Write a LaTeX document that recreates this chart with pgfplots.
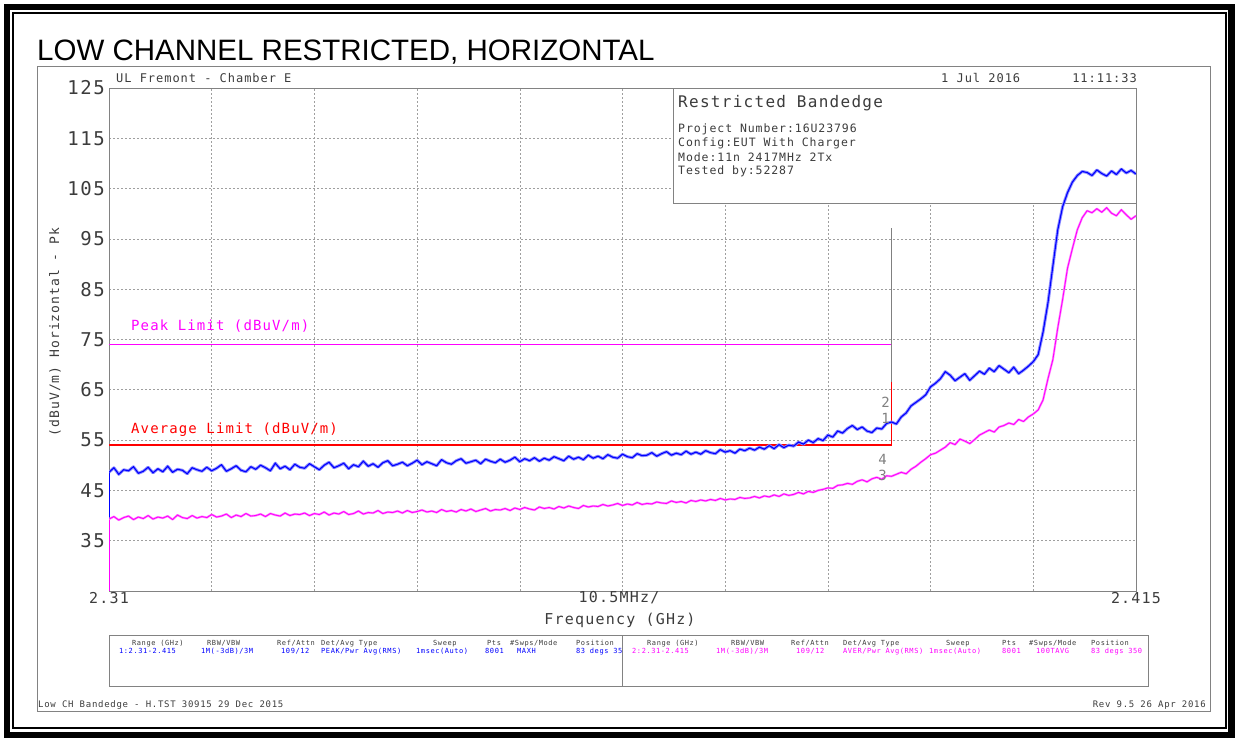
\documentclass[border=0pt]{standalone}
\usepackage{fontspec}
\usepackage{pgfplots}
\usepackage{pgfplotstable}
\pgfplotsset{compat=1.18}
\newfontfamily\arial{Liberation Sans}
\newfontfamily\hp[LetterSpace=8]{DejaVu Sans Mono}
\newcommand\hpf[1]{\hp\fontsize{#1}{#1}\selectfont}
\definecolor{pk}{RGB}{0,0,255}
\definecolor{av}{RGB}{255,0,255}
\definecolor{lim}{RGB}{255,0,0}
\definecolor{txt}{RGB}{60,60,60}
\definecolor{frm}{RGB}{130,130,130}

% f (GHz), peak trace, average trace (dBuV/m)
\pgfplotstableread{
f pk av
2.3100 48.6 39.3
2.3105 49.5 39.8
2.3110 48.2 39.1
2.3115 49.1 39.6
2.3120 48.9 39.9
2.3125 49.7 39.2
2.3130 48.4 39.7
2.3135 48.8 39.4
2.3140 49.6 40.0
2.3145 48.5 39.3
2.3150 49.3 39.7
2.3155 48.7 39.5
2.3160 49.8 39.9
2.3165 48.6 39.2
2.3170 49.2 40.1
2.3175 49.0 39.6
2.3180 48.3 39.4
2.3185 49.5 40.0
2.3190 49.1 39.5
2.3195 48.8 39.8
2.3200 49.6 39.6
2.3205 48.9 40.2
2.3210 49.4 39.7
2.3215 50.1 39.9
2.3220 48.8 40.3
2.3225 49.3 39.6
2.3230 49.9 40.1
2.3235 49.0 39.8
2.3240 48.7 40.4
2.3245 49.7 39.9
2.3250 49.2 40.0
2.3255 50.0 40.3
2.3260 49.5 39.8
2.3265 48.9 40.4
2.3270 50.4 40.1
2.3275 49.3 39.9
2.3280 49.8 40.5
2.3285 49.1 40.0
2.3290 50.2 40.3
2.3295 49.6 40.2
2.3300 49.4 40.5
2.3305 50.3 40.0
2.3310 49.7 40.4
2.3315 49.1 40.2
2.3320 50.0 40.7
2.3325 50.6 40.1
2.3330 49.5 40.5
2.3335 49.9 40.3
2.3340 50.4 40.8
2.3345 49.3 40.2
2.3350 50.1 40.4
2.3355 49.7 40.9
2.3360 50.8 40.3
2.3365 49.8 40.6
2.3370 50.3 40.5
2.3375 49.6 41.0
2.3380 50.5 40.4
2.3385 50.9 40.7
2.3390 49.9 40.6
2.3395 50.2 40.9
2.3400 50.6 40.5
2.3405 49.9 41.0
2.3410 50.4 40.6
2.3415 51.0 40.8
2.3420 50.1 41.1
2.3425 50.7 40.7
2.3430 50.3 40.9
2.3435 49.9 40.6
2.3440 51.1 41.2
2.3445 50.5 40.8
2.3450 50.2 41.0
2.3455 50.9 40.7
2.3460 51.3 41.2
2.3465 50.4 40.9
2.3470 50.7 41.3
2.3475 51.0 40.8
2.3480 50.3 41.1
2.3485 51.2 41.4
2.3490 50.8 40.9
2.3495 50.5 41.2
2.3500 51.2 41.1
2.3505 50.6 41.4
2.3510 51.0 41.0
2.3515 51.6 41.5
2.3520 50.7 41.2
2.3525 51.3 41.6
2.3530 50.9 41.3
2.3535 51.5 41.1
2.3540 50.8 41.7
2.3545 51.4 41.4
2.3550 51.0 41.6
2.3555 51.7 41.3
2.3560 51.3 41.8
2.3565 50.9 41.5
2.3570 51.8 41.9
2.3575 51.2 41.6
2.3580 51.6 41.4
2.3585 51.1 42.0
2.3590 52.0 41.7
2.3595 51.4 41.9
2.3600 51.8 41.8
2.3605 51.3 42.2
2.3610 52.1 41.9
2.3615 51.6 42.1
2.3620 51.4 42.4
2.3625 52.2 42.0
2.3630 51.7 42.3
2.3635 51.5 42.1
2.3640 52.3 42.6
2.3645 51.9 42.2
2.3650 52.0 42.4
2.3655 52.5 42.3
2.3660 51.8 42.7
2.3665 52.3 42.5
2.3670 52.7 42.4
2.3675 52.0 42.9
2.3680 52.4 42.6
2.3685 52.1 42.8
2.3690 52.8 42.5
2.3695 52.2 43.0
2.3700 52.6 42.8
2.3705 52.2 43.1
2.3710 52.9 42.9
2.3715 52.5 43.2
2.3720 52.3 43.0
2.3725 53.1 43.4
2.3730 52.6 43.1
2.3735 52.9 43.3
2.3740 52.4 43.2
2.3745 53.2 43.6
2.3750 52.9 43.4
2.3755 53.4 43.5
2.3760 53.0 43.8
2.3765 53.6 43.5
2.3770 53.2 43.9
2.3775 53.9 43.7
2.3780 53.3 44.1
2.3785 54.1 43.8
2.3790 53.5 44.3
2.3795 54.0 44.0
2.3800 53.8 44.2
2.3805 54.6 44.6
2.3810 54.2 44.3
2.3815 55.0 44.8
2.3820 54.5 44.6
2.3825 55.3 45.0
2.3830 54.9 45.2
2.3835 56.0 45.5
2.3840 55.6 45.4
2.3845 56.8 46.0
2.3850 56.4 46.1
2.3855 57.3 46.4
2.3860 57.9 46.2
2.3865 57.1 46.8
2.3870 57.6 47.1
2.3875 56.8 46.7
2.3880 56.5 47.3
2.3885 57.4 47.6
2.3890 57.2 47.2
2.3895 58.3 47.9
2.3900 58.6 47.8
2.3905 58.2 48.2
2.3910 59.6 48.6
2.3915 60.4 48.3
2.3920 61.8 49.2
2.3925 62.5 49.8
2.3930 63.2 50.6
2.3935 64.0 51.3
2.3940 65.6 52.1
2.3945 66.3 52.4
2.3950 67.2 53.0
2.3955 68.6 53.6
2.3960 67.9 54.5
2.3965 66.8 54.1
2.3970 67.5 55.2
2.3975 68.2 54.8
2.3980 66.9 54.3
2.3985 67.8 55.1
2.3990 68.7 56.0
2.3995 68.1 56.5
2.4000 69.3 57.0
2.4005 68.6 56.6
2.4010 69.8 57.6
2.4015 69.1 57.9
2.4020 68.4 58.4
2.4025 69.5 58.1
2.4030 68.2 59.1
2.4035 68.9 58.7
2.4040 69.7 59.6
2.4045 70.6 60.2
2.4050 72.0 61.0
2.4055 76.5 63.0
2.4060 82.3 67.2
2.4065 89.6 71.0
2.4070 96.8 77.3
2.4075 101.4 83.0
2.4080 104.2 89.2
2.4085 106.3 93.1
2.4090 107.6 96.8
2.4095 108.4 99.2
2.4100 108.2 100.6
2.4105 107.6 100.2
2.4110 108.7 101.0
2.4115 108.0 100.3
2.4120 107.5 101.2
2.4125 108.5 100.1
2.4130 107.8 99.6
2.4135 108.9 100.8
2.4140 108.1 99.8
2.4145 108.6 98.9
2.4150 107.9 99.6
}\trace

\begin{document}
\begin{tikzpicture}[x=1pt,y=1pt]
\useasboundingbox (0,0) rectangle (1235,738);
% frames
\draw[line width=6.5pt] (7,3) rectangle (1231.5,731);
\draw[line width=2pt] (13,10) rectangle (1225.5,725);
\draw[frm, line width=0.9pt] (37,27) rectangle (1210,672);
% title
\node[anchor=base west, inner sep=0pt] at (37,677) {\arial\fontsize{29.5}{29.5}\selectfont LOW CHANNEL RESTRICTED, HORIZONTAL};
% header
\node[anchor=west, inner sep=0pt, text=txt] at (116,660) {\hpf{12}UL Fremont - Chamber E};
\node[anchor=west, inner sep=0pt, text=txt] at (941,660) {\hpf{12}1 Jul 2016};
\node[anchor=east, inner sep=0pt, text=txt] at (1137,660) {\hpf{12}11:11:33};

\begin{axis}[
  at={(109pt,147pt)}, anchor=south west, scale only axis,
  width=1027pt, height=503pt,
  xmin=2.31, xmax=2.415, ymin=25, ymax=125,
  xtick={2.31,2.3205,2.331,2.3415,2.352,2.3625,2.373,2.3835,2.394,2.4045,2.415},
  xticklabels={},
  ytick={25,35,...,125},
  yticklabels={,35,45,55,65,75,85,95,105,115,125},
  major tick length=0pt,
  grid=major,
  major grid style={gray!75, dash pattern=on 2pt off 2pt, line width=0.6pt},
  axis line style={frm, line width=0.9pt},
  yticklabel style={font=\hpf{19}, text=txt, inner sep=0pt, xshift=-4pt},
]
% info box (under the traces)
\fill[white] (axis cs:2.36766,102.1) rectangle (axis cs:2.415,125);
\draw[frm, line width=0.8pt] (axis cs:2.36766,102.1) rectangle (axis cs:2.415,125);
% limit lines
\addplot[av, line width=1pt] coordinates {(2.31,74) (2.39,74)};
\addplot[lim, line width=1.6pt] coordinates {(2.31,54) (2.39,54) (2.39,66.5)};
\addplot[gray, line width=0.6pt] coordinates {(2.39,66.5) (2.39,97.2)};
% traces (light halo + core, as the dense analyser sweep looks)
\addplot[pk, line width=0.5pt] coordinates {(2.31,25) (2.31,48.6)};
\addplot[pk!45, line width=3pt, line join=round] table[x=f, y=pk] {\trace};
\addplot[pk, line width=1.1pt] table[x=f, y=pk] {\trace};
\addplot[av, line width=0.5pt] coordinates {(2.31,25) (2.31,39.3)};
\addplot[av!45, line width=2.2pt, line join=round] table[x=f, y=av] {\trace};
\addplot[av, line width=0.9pt] table[x=f, y=av] {\trace};
% limit labels
\node[anchor=west, inner sep=0pt, text=av] at (axis cs:2.31225,77.7) {\hpf{14}Peak Limit (dBuV/m)};
\node[anchor=west, inner sep=0pt, text=lim] at (axis cs:2.31225,57.0) {\hpf{14}Average Limit (dBuV/m)};
% marker labels
\node[inner sep=0pt, text=gray] at (axis cs:2.3894,62.6) {\hpf{14}2};
\node[inner sep=0pt, text=gray] at (axis cs:2.3894,59.4) {\hpf{14}1};
\node[inner sep=0pt, text=gray] at (axis cs:2.3891,51.2) {\hpf{14}4};
\node[inner sep=0pt, text=gray] at (axis cs:2.3891,48.0) {\hpf{14}3};
\end{axis}

% info box text
\node[anchor=west, inner sep=0pt, text=txt] at (678,635) {\hpf{16}Restricted Bandedge};
\node[anchor=west, inner sep=0pt, text=txt] at (678,609) {\hpf{11.5}Project Number:16U23796};
\node[anchor=west, inner sep=0pt, text=txt] at (678,595) {\hpf{11.5}Config:EUT With Charger};
\node[anchor=west, inner sep=0pt, text=txt] at (678,581) {\hpf{11.5}Mode:11n 2417MHz 2Tx};
\node[anchor=west, inner sep=0pt, text=txt] at (678,567) {\hpf{11.5}Tested by:52287};

% axis texts
\node[inner sep=0pt, text=txt] at (109,140) {\hpf{15}2.31};
\node[inner sep=0pt, text=txt] at (1136,140) {\hpf{15}2.415};
\node[inner sep=0pt, text=txt] at (619,140) {\hpf{15}10.5MHz/};
\node[inner sep=0pt, text=txt] at (620,118) {\hpf{15}Frequency (GHz)};
\node[inner sep=0pt, text=txt, rotate=90] at (55,406) {\hpf{13}(dBuV/m) Horizontal - Pk};

% settings table
\draw[frm, line width=0.8pt] (109,52) rectangle (1148,103);
\draw[frm, line width=0.8pt] (622,52) -- (622,103);
\begin{scope}[every node/.style={anchor=base west, inner sep=0pt}]
% headers, left half
\node[text=txt] at (132,92.5) {\hpf{7}Range (GHz)};
\node[text=txt] at (207,92.5) {\hpf{7}RBW/VBW};
\node[text=txt] at (277,92.5) {\hpf{7}Ref/Attn};
\node[text=txt] at (321,92.5) {\hpf{7}Det/Avg Type};
\node[text=txt] at (433,92.5) {\hpf{7}Sweep};
\node[text=txt] at (487,92.5) {\hpf{7}Pts};
\node[text=txt] at (510,92.5) {\hpf{7}\#Swps/Mode};
\node[text=txt] at (576,92.5) {\hpf{7}Position};
% headers, right half
\node[text=txt] at (647,92.5) {\hpf{7}Range (GHz)};
\node[text=txt] at (731,92.5) {\hpf{7}RBW/VBW};
\node[text=txt] at (791,92.5) {\hpf{7}Ref/Attn};
\node[text=txt] at (843,92.5) {\hpf{7}Det/Avg Type};
\node[text=txt] at (946,92.5) {\hpf{7}Sweep};
\node[text=txt] at (1002,92.5) {\hpf{7}Pts};
\node[text=txt] at (1029,92.5) {\hpf{7}\#Swps/Mode};
\node[text=txt] at (1091,92.5) {\hpf{7}Position};
% values, trace 1
\node[text=pk] at (119,84) {\hpf{7}1:2.31-2.415};
\node[text=pk] at (201,84) {\hpf{7}1M(-3dB)/3M};
\node[text=pk] at (281,84) {\hpf{7}109/12};
\node[text=pk] at (321,84) {\hpf{7}PEAK/Pwr Avg(RMS)};
\node[text=pk] at (416,84) {\hpf{7}1msec(Auto)};
\node[text=pk] at (485,84) {\hpf{7}8001};
\node[text=pk] at (517,84) {\hpf{7}MAXH};
\node[text=pk] at (576,84) {\hpf{7}83 degs 35};
% values, trace 2
\node[text=av] at (632,84) {\hpf{7}2:2.31-2.415};
\node[text=av] at (716,84) {\hpf{7}1M(-3dB)/3M};
\node[text=av] at (796,84) {\hpf{7}109/12};
\node[text=av] at (843,84) {\hpf{7}AVER/Pwr Avg(RMS)};
\node[text=av] at (929,84) {\hpf{7}1msec(Auto)};
\node[text=av] at (1002,84) {\hpf{7}8001};
\node[text=av] at (1036,84) {\hpf{7}100TAVG};
\node[text=av] at (1091,84) {\hpf{7}83 degs 350};
\end{scope}

% footer
\node[anchor=west, inner sep=0pt, text=txt] at (38,33) {\hpf{9}Low CH Bandedge - H.TST 30915 29 Dec 2015};
\node[anchor=east, inner sep=0pt, text=txt] at (1206,33) {\hpf{9}Rev 9.5 26 Apr 2016};
\end{tikzpicture}
\end{document}
